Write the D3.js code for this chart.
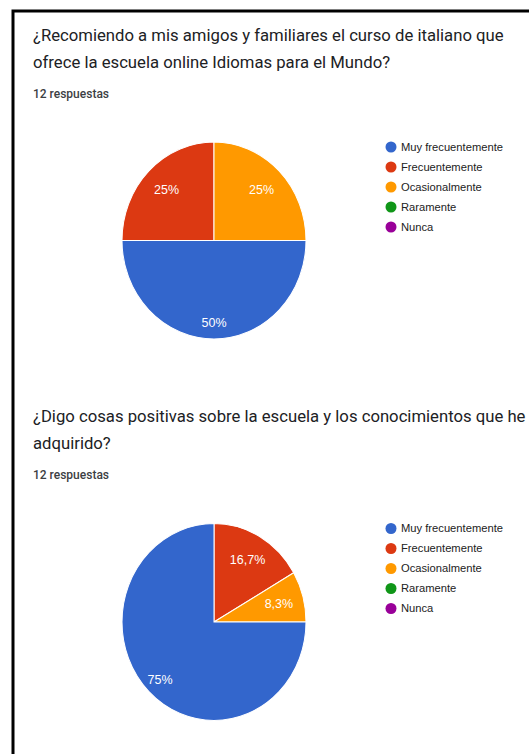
<!DOCTYPE html>
<html>
<head>
<meta charset="utf-8">
<script src="https://cdn.jsdelivr.net/npm/d3@7"></script>
<style>
  body { margin: 0; background: #fff; }
  svg { display: block; }
</style>
</head>
<body>
<div id="chart"></div>
<script>
// legend categories (same for both questions)
const categories = ["Muy frecuentemente", "Frecuentemente", "Ocasionalmente", "Raramente", "Nunca"];
const colors = ["#3366cc", "#dc3912", "#ff9900", "#109618", "#990099"];

// question 1
const title1 = ["¿Recomiendo a mis amigos y familiares el curso de italiano que", "ofrece la escuela online Idiomas para el Mundo?"];
const counts1 = [6, 3, 3, 0, 0];
const labels1 = ["50%", "25%", "25%", "", ""];

// question 2
const title2 = ["¿Digo cosas positivas sobre la escuela y los conocimientos que he", "adquirido?"];
const counts2 = [9, 2, 1, 0, 0];
const labels2 = ["75%", "16,7%", "8,3%", "", ""];

const responses = "12 respuestas";

// drawing order of the slices (clockwise) and where the first one starts
const sliceOrder = ["Frecuentemente", "Ocasionalmente", "Muy frecuentemente", "Raramente", "Nunca"];

const W = 529, H = 754;
const svg = d3.select("#chart").append("svg").attr("width", W).attr("height", H);

// frame (only left and top edges are visible)
svg.append("path")
    .attr("d", "M13,754 L13,11 L529,11")
    .attr("fill", "none")
    .attr("stroke", "#000")
    .attr("stroke-width", 3);

const color = d3.scaleOrdinal().domain(categories).range(colors);

function drawBlock(top, titleLines, counts, labels, startAngle) {
    let g = svg.append("g").attr("transform", "translate(0," + top + ")");

    g.selectAll(".title")
        .data(titleLines)
        .enter()
        .append("text")
            .attr("x", 33)
            .attr("y", (d, i) => 30.5 + i * 27)
            .style("font-family", "Roboto")
            .style("font-size", "16.7px")
            .style("fill", "#202124")
            .text(d => d);

    g.append("text")
        .attr("x", 33)
        .attr("y", 87.5)
        .style("font-family", "Roboto")
        .style("font-weight", 500)
        .style("font-size", "12px")
        .style("fill", "#3c4043")
        .text(responses);

    let data = categories.map((c, i) => ({ cat: c, value: counts[i], label: labels[i] }))
        .sort((a, b) => sliceOrder.indexOf(a.cat) - sliceOrder.indexOf(b.cat));
    let total = d3.sum(data, d => d.value);

    let r = 92;
    let pie = d3.pie().sort(null).value(d => d.value)
        .startAngle(startAngle).endAngle(startAngle + 2 * Math.PI);
    let arcs = pie(data).filter(d => d.value > 0);
    let arc = d3.arc().innerRadius(0).outerRadius(r);

    let pg = g.append("g").attr("transform", "translate(214," + 230.5 + ") scale(1,1.07)");
    pg.selectAll("path")
        .data(arcs)
        .enter()
        .append("path")
            .attr("d", arc)
            .style("fill", d => color(d.data.cat))
            .style("stroke", "#fff")
            .style("stroke-width", 1);

    pg.selectAll("text")
        .data(arcs)
        .enter()
        .append("text")
            .attr("transform", d => {
                let lr = r * (d.value / total >= 0.5 ? 0.83 : 0.73);
                let c = d3.arc().innerRadius(lr).outerRadius(lr).centroid(d);
                return "translate(" + c[0] + "," + c[1] + ") scale(1,0.98)";
            })
            .attr("text-anchor", "middle")
            .attr("dy", "0.35em")
            .style("font-family", "Arial, 'Liberation Sans'")
            .style("font-size", "12.5px")
            .style("fill", "#fff")
            .text(d => d.data.label);

    // legend
    let lg = g.append("g").attr("transform", "translate(391," + 137 + ")");
    let item = lg.selectAll("g")
        .data(categories)
        .enter()
        .append("g")
            .attr("transform", (d, i) => "translate(0," + i * 20 + ")");
    item.append("circle")
        .attr("r", 5.5)
        .style("fill", d => color(d));
    item.append("text")
        .attr("x", 10)
        .attr("dy", "0.35em")
        .style("font-family", "Arial, 'Liberation Sans'")
        .style("font-size", "11.2px")
        .style("fill", "#222")
        .text(d => d);
}

drawBlock(10, title1, counts1, labels1, -Math.PI / 2);
drawBlock(391.5, title2, counts2, labels2, 0);
</script>
</body>
</html>
